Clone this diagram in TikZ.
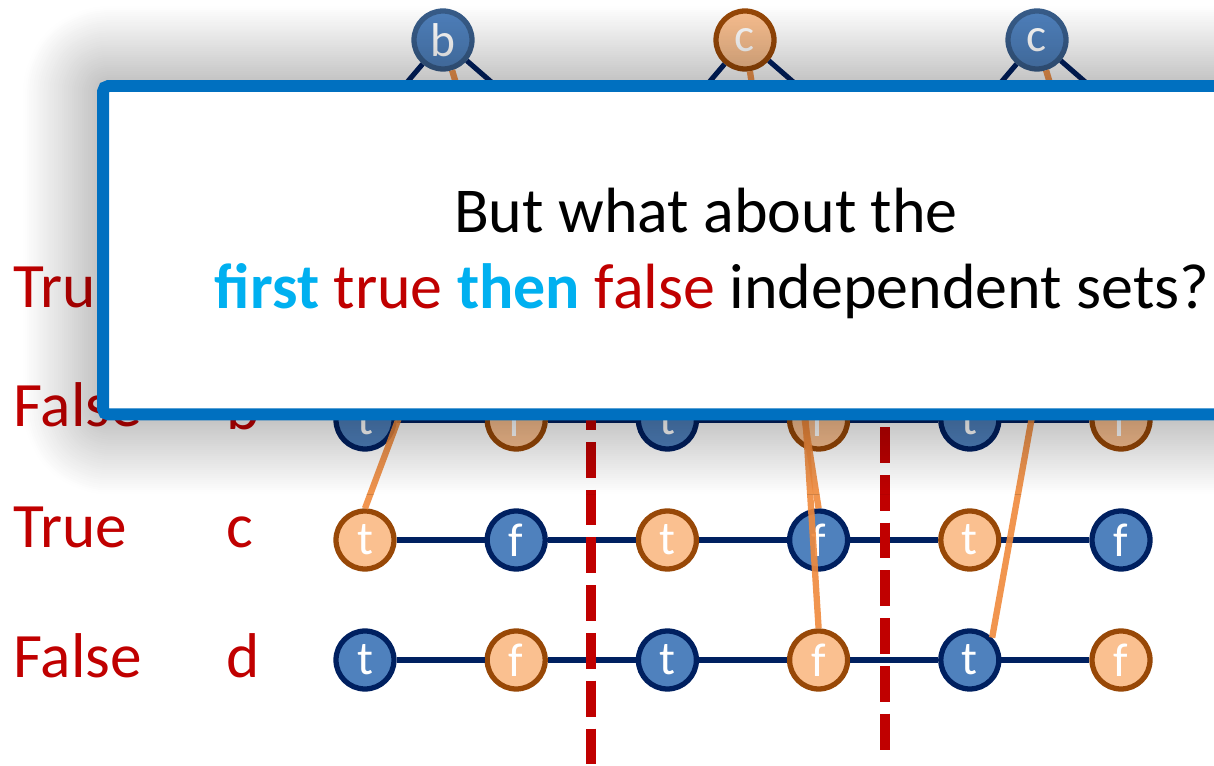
\documentclass[tikz,border=0pt]{standalone}
\usepackage{fontspec}
\setmainfont{Carlito}
\usetikzlibrary{shadows.blur}

\definecolor{navy}{HTML}{002060}
\definecolor{litblue}{HTML}{4F81BD}
\definecolor{topedge}{HTML}{385D8A}
\definecolor{peach}{HTML}{FAC090}
\definecolor{rust}{HTML}{984807}
\definecolor{wire}{HTML}{F08A3C}
\definecolor{darkred}{HTML}{C00000}
\definecolor{frameblue}{HTML}{0070C0}
\definecolor{sky}{HTML}{00B0F0}

\begin{document}
\begin{tikzpicture}[
    x=0.02cm, y=-0.02cm,
    vnode/.style={circle, draw, line width=3pt, minimum size=1.16cm, inner sep=0pt,
                  text=white, font=\fontsize{27}{27}\selectfont},
    bluev/.style={vnode, fill=litblue, draw=navy},
    orangev/.style={vnode, fill=peach, draw=rust},
    topv/.style={vnode, fill=litblue, draw=topedge},
    rowlab/.style={anchor=base west, inner sep=0pt, text=darkred,
                   font=\fontsize{36}{36}\selectfont},
    rung/.style={navy, line width=2.9pt},
    link/.style={wire, line width=3.6pt, opacity=0.9},
    cut/.style={darkred, line width=5.6pt, dash pattern=on 20.4pt off 6.8pt},
    msgbox/.style={draw=frameblue, fill=white, line width=6.8pt, rounded corners=3pt,
                   minimum width=24.28cm, minimum height=6.57cm,
                   blur shadow={shadow xshift=0pt, shadow yshift=0pt,
                                shadow blur radius=1.6cm, shadow blur steps=40,
                                shadow opacity=50}},
    asktext/.style={anchor=base, inner sep=0pt, font=\fontsize{36.4}{36}\selectfont}
  ]
  \useasboundingbox (0,0) rectangle (1214,766);

  % variable rows, three t/f pairs each
  \foreach \r/\y/\ts/\fs in {b/420/bluev/orangev, c/540/orangev/bluev, d/660/bluev/orangev}{
    \foreach \k in {0,1,2}{
      \pgfmathsetmacro{\xt}{365+302.4*\k}
      \pgfmathsetmacro{\xf}{516.2+302.4*\k}
      \pgfmathtruncatemacro{\nt}{2*\k+1}
      \pgfmathtruncatemacro{\nf}{2*\k+2}
      \node[\ts] (\r\nt) at (\xt,\y) {t};
      \node[\fs] (\r\nf) at (\xf,\y) {f};
    }
    \foreach \i [evaluate=\i as \j using int(\i+1)] in {1,...,5}
      \draw[rung] (\r\i) -- (\r\j);
  }

  % clause heads on top
  \node[topv]    (tb)  at (443,40)  {b};
  \node[orangev] (tc)  at (745,40)  {c};
  \node[topv]    (tc2) at (1037,40) {c};

  \coordinate (tbL)  at (358,140);  \coordinate (tbR)  at (558,140);
  \coordinate (tbO)  at (473,140);
  \coordinate (tcL)  at (660,140);  \coordinate (tcR)  at (860,140);
  \coordinate (tc2L) at (952,140);  \coordinate (tc2R) at (1152,140);
  \coordinate (tc2O) at (1067,140);
  \foreach \n in {tb,tc,tc2}{
    \draw[rung] (\n) -- (\n L);
    \draw[rung] (\n) -- (\n R);
  }
  \draw[link] (tb) -- (tbO);
  \draw[link] (tc2) -- (tc2O);

  % edges into the lower rows
  \coordinate (h1) at (443,300);
  \coordinate (h2) at (798,300);
  \coordinate (h3) at (1053,300);
  \draw[link] (h1) -- (c1.north);
  \draw[link] (tc) -- (c4.north);
  \draw[link] (h2) -- (d4.north);
  \draw[link] (h3) -- (d5.north east);

  % cuts
  \coordinate (cut1a) at (591,394); \coordinate (cut1b) at (591,770);
  \coordinate (cut2a) at (885,427); \coordinate (cut2b) at (885,751);
  \draw[cut] (cut1a) -- (cut1b);
  \draw[cut] (cut2a) -- (cut2b);

  % assignment and variable names
  \node[rowlab] (va) at (13,308) {True};
  \node[rowlab] (vb) at (13,427) {False};
  \node[rowlab] (vc) at (13,548) {True};
  \node[rowlab] (vd) at (13,678) {False};
  \node[rowlab] (nb) at (226,430) {b};
  \node[rowlab] (nc) at (226,548) {c};
  \node[rowlab] (nd) at (226,678) {d};

  % question box
  \node[msgbox] (msg) at (710,250.25) {};
  \node[asktext] (ask1) at (706,233) {But what about the};
  \node[asktext] (ask2) at (712,309) {\textcolor{sky}{\textbf{first}}
    \textcolor{darkred}{true} \textcolor{sky}{\textbf{then}}
    \textcolor{darkred}{false} independent sets?};
\end{tikzpicture}
\end{document}
